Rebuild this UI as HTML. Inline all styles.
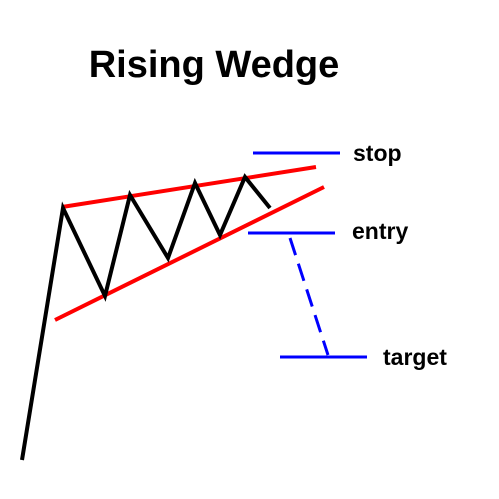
<!DOCTYPE html>
<html><head><meta charset="utf-8"><style>
html,body{margin:0;padding:0;background:#fff;width:499px;height:499px;overflow:hidden}
svg text{font-family:"Liberation Sans",Arial,sans-serif;font-weight:bold;fill:#000}
</style></head><body>
<svg id="c" width="499" height="499" viewBox="0 0 499 499">
<text x="214" y="77" font-size="38" text-anchor="middle">Rising Wedge</text>
<g id="marks"></g>
<text x="353" y="161" font-size="23">stop</text>
<text x="352" y="239" font-size="23">entry</text>
<text x="383" y="365" font-size="23">target</text>
</svg>
<script>
const priceX=[22,63,105,130,168,195,220,245,270];
const priceY=[460,208,296,195,258,183,235,177,208];
const upperLine=[[62,207],[316,167]];
const lowerLine=[[55,320],[324,187]];
const levelNames=["stop","entry","target"];
const levelY=[153,233,357];
const levelX1=[253,248,280];
const levelX2=[340,335,367];
const ns="http://www.w3.org/2000/svg";
const g=document.getElementById("marks");
function mk(t,a){const e=document.createElementNS(ns,t);for(const k in a)e.setAttribute(k,a[k]);g.appendChild(e);return e;}
const l1=mk("line",{x1:upperLine[0][0],y1:upperLine[0][1],x2:upperLine[1][0],y2:upperLine[1][1],stroke:"#f00","stroke-width":4});


const l2=mk("line",{x1:lowerLine[0][0],y1:lowerLine[0][1],x2:lowerLine[1][0],y2:lowerLine[1][1],stroke:"#f00","stroke-width":4});


const pts=priceX.map((x,i)=>x+","+priceY[i]).join(" ");
const p=mk("polyline",{points:pts,fill:"none",stroke:"#000","stroke-width":4,"stroke-linejoin":"miter"});


levelY.forEach((y,i)=>{
  const l=mk("line",{x1:levelX1[i],y1:y,x2:levelX2[i],y2:y,stroke:"#00f","stroke-width":3});
  
  
});
const d=mk("line",{x1:290,y1:238,x2:328,y2:355,stroke:"#00f","stroke-width":3,"stroke-dasharray":"18,9"});


</script>
</body></html>
